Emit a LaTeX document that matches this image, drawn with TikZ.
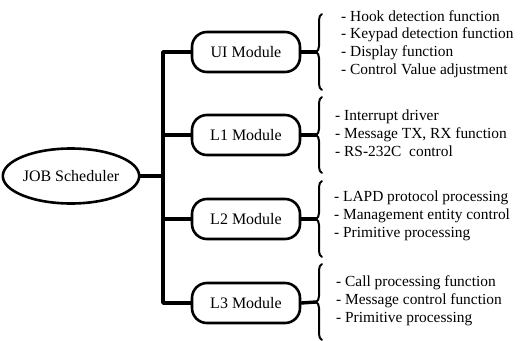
\documentclass[tikz,border=0pt]{standalone}
\usepackage{fontspec}
\setmainfont{Liberation Serif}
\usetikzlibrary{shapes.geometric,decorations.pathreplacing}

\begin{document}
\begin{tikzpicture}[x=1pt,y=-1pt,line cap=round,line join=round]
\tikzset{
    sched/.style=   {ellipse, draw, line width=2.6pt, minimum width=123pt, minimum height=55pt, inner sep=0pt},
    module/.style=  {draw, line width=2.6pt, rounded corners=15pt, minimum width=108pt, minimum height=40pt, inner sep=0pt},
    link/.style=    {line width=3.4pt},
    curly/.style=   {line width=2pt, decorate, decoration={brace, amplitude=6pt}},
    funcs/.style=   {anchor=west, align=left, inner sep=0pt, font=\fontsize{15.4}{17.8}\selectfont}
}
\useasboundingbox (0,0) rectangle (527,340);
\fontsize{16}{18}\selectfont

%% scheduler and the bus
\node[sched] (job) at (71,176) {JOB Scheduler};
\coordinate (bus) at (163,176);

%% modules
\node[module] (ui) at (246,52)  {UI Module};
\node[module] (l1) at (246,135) {L1 Module};
\node[module] (l2) at (246,219) {L2 Module};
\node[module] (l3) at (246,303) {L3 Module};

\draw[link] (job) -- (bus);
\draw[link] (ui.west) -| (bus) |- (l3.west);
\draw[link] (l1.west) -- (l1.west -| bus);
\draw[link] (l2.west) -- (l2.west -| bus);

%% braces
\coordinate (uib) at (322,52);
\coordinate (l1b) at (322,135);
\coordinate (l2b) at (322,219);
\coordinate (l3b) at (322,302);
\foreach \m in {ui,l1,l2,l3}{
  \draw[curly] ([yshift=-38pt]\m b) -- ([yshift=38pt]\m b);
  \draw[link] (\m.east) -- ([xshift=-6pt]\m b);
}

%% function lists
\node[funcs] (uilist) at (341,44) {- Hook detection function\\- Keypad detection function\\- Display function\\- Control Value adjustment};
\node[funcs] (l1list) at (335,133) {- Interrupt driver\\- Message TX, RX function\\- RS-232C\ \ control};
\node[funcs] (l2list) at (334,216) {- LAPD protocol processing\\- Management entity control\\- Primitive processing};
\node[funcs] (l3list) at (336,301) {- Call processing function\\- Message control function\\- Primitive processing};

\end{tikzpicture}
\end{document}
